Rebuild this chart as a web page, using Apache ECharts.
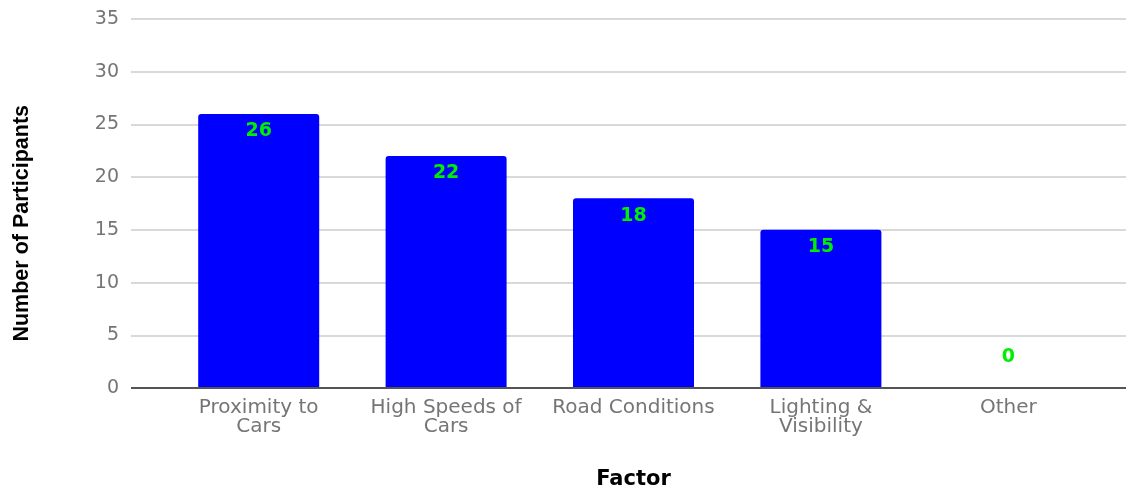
<!DOCTYPE html>
<html>
<head>
<meta charset="utf-8">
<script src="https://cdn.jsdelivr.net/npm/echarts@6/dist/echarts.min.js"></script>
<style>
  html, body { margin: 0; padding: 0; background: #fff; }
  #chart { width: 1127px; height: 489px; }
</style>
</head>
<body>
<div id="chart"></div>
<script>
// Factors reported by participants
const categories = ['Proximity to\nCars', 'High Speeds of\nCars', 'Road Conditions', 'Lighting &\nVisibility', 'Other'];
const participants = [26, 22, 18, 15, 0];
const yTicks = [0, 5, 10, 15, 20, 25, 30, 35];

const yMin = yTicks[0];
const yMax = yTicks[yTicks.length - 1];
const yStep = yTicks[1] - yTicks[0];

const chart = echarts.init(document.getElementById('chart'));

const barData = participants.map(v => {
  const item = { value: v };
  if (v === 0) {
    item.label = { position: 'top', distance: 21 };
  }
  return item;
});

chart.setOption({
  animation: false,
  grid: [
    // frame: value scale, gridlines and baseline
    { left: 131, right: 1, top: 19, bottom: 101, outerBoundsMode: 'none', containLabel: false },
    // bars
    { left: 165, right: 25, top: 19, bottom: 101, outerBoundsMode: 'none', containLabel: false }
  ],
  xAxis: [
    {
      gridIndex: 0, type: 'value', min: 0, max: 1, show: true,
      axisLine: { show: false }, axisTick: { show: false },
      axisLabel: { show: false }, splitLine: { show: false }
    },
    {
      gridIndex: 1, type: 'category', data: categories,
      axisLine: { show: false },
      axisTick: { show: false },
      axisLabel: {
        interval: 0, color: '#757575', fontSize: 20,
        fontFamily: '"DejaVu Sans", Verdana, sans-serif', lineHeight: 19, margin: 10
      },
      name: 'Factor',
      nameLocation: 'middle',
      nameGap: 81,
      nameTextStyle: {
        color: '#000', fontSize: 21, fontWeight: 'bold',
        fontFamily: '"DejaVu Sans", Verdana, sans-serif'
      }
    }
  ],
  yAxis: [
    {
      gridIndex: 0, type: 'value', min: yMin, max: yMax, interval: yStep,
      axisLine: { show: false }, axisTick: { show: false },
      axisLabel: {
        color: '#757575', fontSize: 19, margin: 12,
        fontFamily: '"DejaVu Sans", Verdana, sans-serif'
      },
      splitLine: { lineStyle: { color: '#cccccc', width: 1.5 } }
    },
    {
      gridIndex: 1, type: 'value', min: yMin, max: yMax, interval: yStep,
      show: false, splitLine: { show: false }
    }
  ],
  graphic: [
    {
      type: 'text',
      left: 11, top: 105,
      rotation: Math.PI / 2,
      style: {
        text: 'Number of Participants',
        fill: '#000',
        font: 'bold 21.5px "Liberation Sans Narrow", "Liberation Sans", sans-serif'
      }
    }
  ],
  series: [
    {
      // baseline across the whole frame
      type: 'line',
      xAxisIndex: 0, yAxisIndex: 0,
      data: [[0, 0], [1, 0]],
      symbol: 'none',
      lineStyle: { color: '#555555', width: 2 },
      z: 5,
      silent: true
    },
    {
      type: 'bar',
      xAxisIndex: 1, yAxisIndex: 1,
      data: barData,
      barWidth: 121,
      itemStyle: { color: '#0000ff', borderRadius: [3, 3, 0, 0] },
      label: {
        show: true,
        position: 'insideTop',
        distance: 8,
        color: '#00ee00',
        fontSize: 19,
        fontWeight: 'bold',
        fontFamily: '"DejaVu Sans", Verdana, sans-serif'
      },
      z: 3
    }
  ]
});
</script>
</body>
</html>
